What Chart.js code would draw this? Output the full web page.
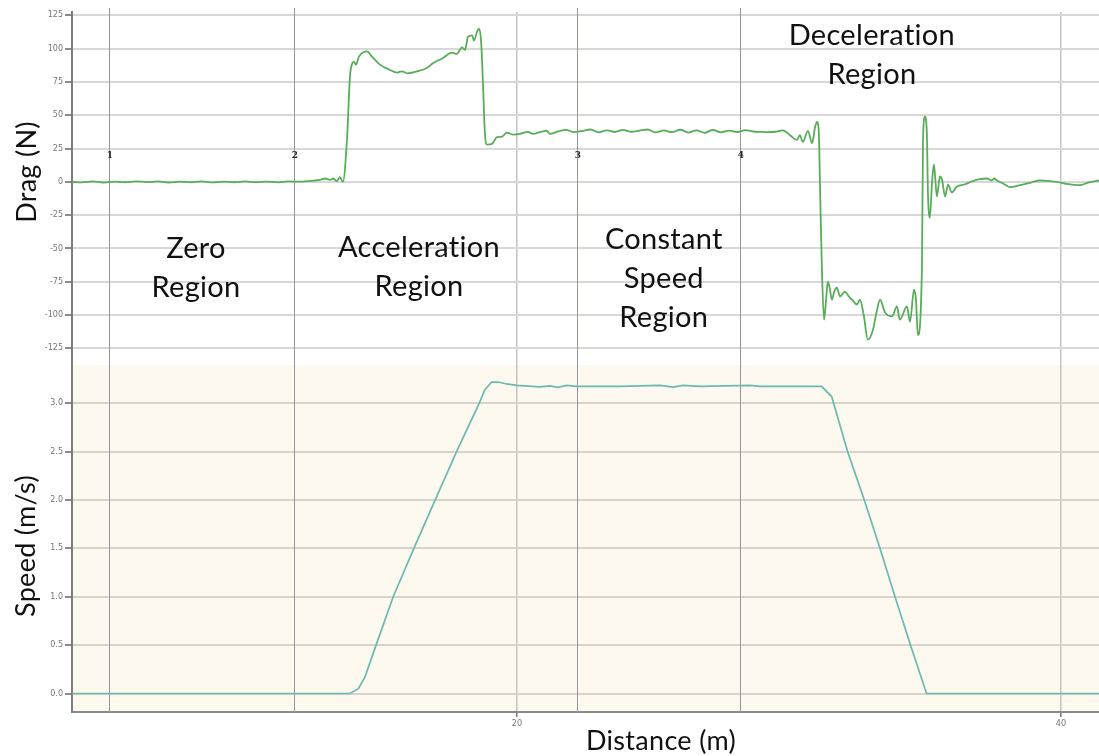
<!DOCTYPE html>
<html>
<head>
<meta charset="utf-8">
<script src="https://cdn.jsdelivr.net/npm/chart.js@4.4.1/dist/chart.umd.min.js"></script>
<style>
  html, body { margin: 0; padding: 0; background: #ffffff; overflow: hidden; }
  canvas { display: block; }
</style>
</head>
<body>
<canvas id="c" width="1099" height="756"></canvas>
<script>
// Drag force recorded along the run (distance in m, force in N)
const dragDistance = [
  3.64, 4.0, 4.4, 4.8, 5.2, 5.6, 6.0, 6.4, 6.8, 7.2, 7.6, 8.0, 8.4, 8.8, 9.2, 9.6, 10.0, 10.4, 10.8, 11.2,
  11.6, 12.0, 12.4, 12.76, 12.94, 13.13, 13.24, 13.38, 13.49, 13.60, 13.75, 13.86, 13.93, 14.01, 14.08, 14.19,
  14.49, 14.67, 14.96, 15.33, 15.59, 15.77, 15.96, 16.32, 16.69, 16.91, 17.28, 17.61, 17.79, 17.98, 18.09,
  18.20, 18.35, 18.42, 18.53, 18.60, 18.68, 18.75, 18.82, 18.90, 19.08, 19.26, 19.45, 19.63, 19.85, 20.11,
  20.40, 20.59, 21.10, 21.21,
  21.5, 21.8, 22.1, 22.4, 22.7, 23.0, 23.3, 23.6, 23.9, 24.2, 24.5, 24.8, 25.1, 25.4, 25.7, 26.0, 26.3, 26.6,
  26.9, 27.2, 27.5, 27.8, 28.1, 28.4, 28.7, 28.93, 29.2, 29.5, 29.78, 30.04, 30.29, 30.40, 30.51, 30.70,
  30.85, 30.96, 31.03, 31.10, 31.14, 31.21, 31.29, 31.36, 31.43, 31.50, 31.58, 31.67, 31.76, 31.88, 32.06,
  32.20, 32.32, 32.50, 32.61, 32.75, 32.90, 33.09, 33.22, 33.35, 33.53, 33.79, 33.97, 34.08, 34.34, 34.45,
  34.60, 34.67, 34.74, 34.89, 34.93, 35.00, 35.07, 35.11, 35.18, 35.26, 35.33, 35.44, 35.55, 35.63, 35.74,
  35.85, 35.99, 36.18, 36.45, 36.75, 37.02, 37.28, 37.45, 37.55, 37.65, 37.85, 38.13, 38.5, 38.9, 39.23,
  39.6, 39.85, 40.2, 40.70, 41.0, 41.40
];
const dragForce = [
  0, -0.4, 0.3, -0.5, 0.2, -0.3, 0.4, -0.2, 0.3, -0.5, 0.2, -0.3, 0.4, -0.4, 0.1, -0.3, 0.3, -0.2, 0.2, -0.4,
  0.3, 0.1, 0.8, 1.5, 2.5, 1.5, 2.5, 0.5, 3.5, 0, 31.5, 79, 88, 90, 88, 94,
  98, 94, 88, 84, 82, 83, 81.5, 83, 85.5, 89, 93, 97, 96, 101, 99,
  109, 110, 106, 112.5, 115, 106, 74, 37, 28, 28.5, 33.5, 34, 37, 35.5, 36,
  37.5, 36, 38.5, 36,
  37.8, 39.0, 37.3, 38.2, 39.3, 37.2, 38.6, 37.4, 39.0, 37.6, 38.4, 39.3, 37.1, 38.6, 37.3, 39.1, 37.0, 38.7,
  36.8, 38.9, 37.2, 38.5, 37.4, 38.8, 37.8, 37.5, 37.3, 37.6, 38.7, 35, 31.5, 35, 30, 38.2,
  29, 41, 45, 36.5, -1, -64, -103.5, -90, -75, -80, -88.5, -82, -79.5, -86, -82.5,
  -86, -88.5, -92, -88.5, -100, -118.5, -111, -98, -88.5, -98, -101, -93.5, -103.5, -93.5, -105,
  -81, -88.5, -115, -64, 31.5, 49, 37, -8, -27, -1, 13, -11, 4, 1.5, -11,
  -2, -8, -3.5, -2, 0.5, 2, 2.5, 1, 2.5, 1, -1, -4, -2.5, -0.5, 1,
  0.5, 0, -1.5, -2.5, -0.5, 1
];

// Carriage speed along the run (distance in m, speed in m/s)
const speedDistance = [
  3.64, 8.35, 13.86, 14.17, 14.41, 14.82, 15.45, 16.21, 16.99, 17.78, 18.61, 18.82, 19.07, 19.31, 19.62,
  19.99, 20.85, 21.21, 21.51, 21.83, 22.19, 23.79, 25.26, 25.74, 26.10, 26.73, 28.57, 28.93, 31.20, 31.57,
  32.16, 32.77, 33.35, 33.90, 34.47, 35.06, 37.76, 41.40
];
const speedValue = [
  0, 0, 0, 0.05, 0.17, 0.50, 1.00, 1.50, 2.00, 2.50, 3.00, 3.14, 3.22, 3.22, 3.20,
  3.185, 3.17, 3.18, 3.165, 3.185, 3.175, 3.175, 3.185, 3.168, 3.185, 3.175, 3.185, 3.175, 3.175, 3.07,
  2.50, 2.00, 1.50, 1.00, 0.50, 0.00, 0, 0
];

// Axis tick values
const dragTicks = [-125, -100, -75, -50, -25, 0, 25, 50, 75, 100, 125];
const speedTicks = [0, 0.5, 1.0, 1.5, 2.0, 2.5, 3.0];
const distanceTicks = [20, 40];

// Numbered event markers along the run
const markerDistance = [5.0, 11.8, 22.2, 28.2];
const markerLabels = ['1', '2', '3', '4'];

// Region annotations on the drag panel
const regionText = [
  ['Zero', 'Region'],
  ['Acceleration', 'Region'],
  ['Constant', 'Speed', 'Region'],
  ['Deceleration', 'Region']
];
const regionAnchor = [
  { x: 8.2, y: -65 },
  { x: 16.4, y: -64 },
  { x: 25.4, y: -72.75 },
  { x: 33.05, y: 95.25 }
];

const LABEL_FONT = 'Lato, "Open Sans", sans-serif';
const TICK_FONT = { family: '"DejaVu Sans", sans-serif', size: 8 };

const dragPoints = dragDistance.map((d, i) => ({ x: d, y: dragForce[i] }));
const speedPoints = speedDistance.map((d, i) => ({ x: d, y: speedValue[i] }));

const panelDecor = {
  id: 'panelDecor',
  beforeDraw(chart) {
    const { ctx, chartArea: a, scales: { ySpeed } } = chart;
    ctx.save();
    ctx.fillStyle = '#fdf9ee';
    ctx.fillRect(a.left, ySpeed.top, a.right - a.left, ySpeed.bottom - ySpeed.top);
    ctx.restore();
  },
  beforeDatasetsDraw(chart) {
    const { ctx, chartArea: a, scales: { x, yDrag } } = chart;
    ctx.save();
    ctx.strokeStyle = '#9495a3';
    ctx.lineWidth = 1;
    markerDistance.forEach(d => {
      const px = Math.round(x.getPixelForValue(d)) + 0.5;
      ctx.beginPath();
      ctx.moveTo(px, a.top - 4);
      ctx.lineTo(px, a.bottom);
      ctx.stroke();
    });
    ctx.font = 'bold 9px "DejaVu Serif", serif';
    ctx.fillStyle = '#2a2a2a';
    ctx.textAlign = 'center';
    ctx.textBaseline = 'middle';
    const ly = yDrag.getPixelForValue(20);
    markerLabels.forEach((t, i) => ctx.fillText(t, x.getPixelForValue(markerDistance[i]) + 1, ly));
    ctx.restore();
  },
  afterDraw(chart) {
    const { ctx, scales: { x, yDrag } } = chart;
    ctx.save();
    ctx.fillStyle = '#111111';
    ctx.textAlign = 'center';
    ctx.textBaseline = 'middle';
    // a touch of tracking keeps Lato from joining "ti"
    if ('letterSpacing' in ctx) ctx.letterSpacing = '0.3px';

    // region annotations
    ctx.font = '29px ' + LABEL_FONT;
    const lineGap = 39;
    regionText.forEach((lines, i) => {
      const cx = x.getPixelForValue(regionAnchor[i].x);
      const cy = yDrag.getPixelForValue(regionAnchor[i].y);
      const y0 = cy - (lines.length - 1) * lineGap / 2;
      lines.forEach((t, k) => ctx.fillText(t, cx, y0 + k * lineGap));
    });

    // axis titles
    ctx.font = '27px ' + LABEL_FONT;
    ctx.fillText('Distance (m)', 661, 741);
    const vertical = (t, cx, cy) => {
      ctx.save();
      ctx.translate(cx, cy);
      ctx.rotate(-Math.PI / 2);
      ctx.fillText(t, 0, 0);
      ctx.restore();
    };
    vertical('Drag (N)', 27, 172);
    vertical('Speed (m/s)', 26, 546);
    ctx.restore();
  }
};

new Chart(document.getElementById('c'), {
  type: 'line',
  data: {
    datasets: [
      {
        label: 'Speed (m/s)',
        data: speedPoints,
        yAxisID: 'ySpeed',
        borderColor: '#6cb9b1',
        borderWidth: 1.7,
        pointRadius: 0,
        tension: 0
      },
      {
        label: 'Drag (N)',
        data: dragPoints,
        yAxisID: 'yDrag',
        borderColor: '#58ad58',
        borderWidth: 1.8,
        pointRadius: 0,
        cubicInterpolationMode: 'monotone'
      }
    ]
  },
  options: {
    responsive: false,
    animation: false,
    devicePixelRatio: 1,
    layout: { padding: { top: 12, left: 0, right: 0, bottom: 0 } },
    plugins: { legend: { display: false }, tooltip: { enabled: false } },
    scales: {
      x: {
        type: 'linear',
        min: 3.64,
        max: 41.40,
        afterBuildTicks: axis => { axis.ticks = distanceTicks.map(v => ({ value: v })); },
        afterFit: scale => { scale.height = 44; },
        grid: { color: '#c4c4c4', lineWidth: 1.5, tickLength: 5, tickColor: '#777777' },
        border: { display: true, color: '#8a8a8a', width: 2 },
        ticks: { font: TICK_FONT, color: '#777777', padding: 2, maxRotation: 0 }
      },
      ySpeed: {
        type: 'linear',
        position: 'left',
        stack: 'panels',
        stackWeight: 347,
        min: -0.191,
        max: 3.396,
        afterBuildTicks: axis => { axis.ticks = speedTicks.map(v => ({ value: v })); },
        afterFit: scale => { scale.width = 72; },
        grid: { color: '#d6d4cc', lineWidth: 2, tickLength: 7, tickColor: '#8a8a8a' },
        border: { display: true, color: '#7d7d7d', width: 2 },
        ticks: { font: TICK_FONT, color: '#777777', padding: 2, callback: v => Number(v).toFixed(1) }
      },
      yDrag: {
        type: 'linear',
        position: 'left',
        stack: 'panels',
        stackWeight: 353,
        min: -137.5,
        max: 127.5,
        afterBuildTicks: axis => { axis.ticks = dragTicks.map(v => ({ value: v })); },
        afterFit: scale => { scale.width = 72; },
        grid: { color: '#d8d8d8', lineWidth: 2, tickLength: 7, tickColor: '#8a8a8a' },
        border: { display: true, color: '#7d7d7d', width: 2 },
        ticks: { font: TICK_FONT, color: '#777777', padding: 2, callback: v => String(v) }
      }
    }
  },
  plugins: [panelDecor]
});
</script>
</body>
</html>
